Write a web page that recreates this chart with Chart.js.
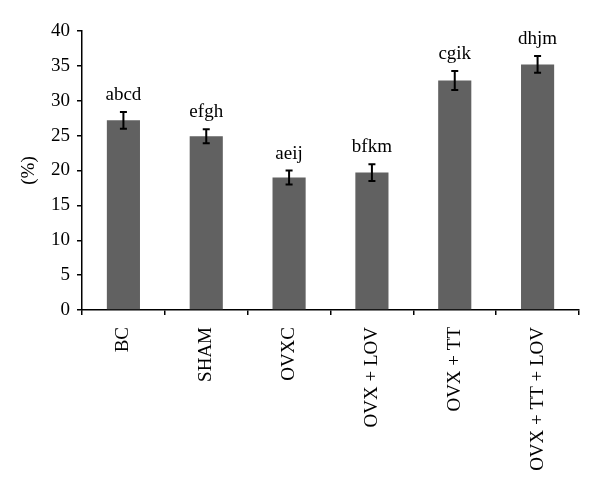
<!DOCTYPE html>
<html>
<head>
  <meta charset="UTF-8">
  <script src="https://cdn.jsdelivr.net/npm/chart.js"></script>
  <style>
    html, body { margin: 0; padding: 0; background: #fff; }
    #wrap { width: 600px; height: 493px; }
  </style>
</head>
<body>
  <div id="wrap"><canvas id="myChart"></canvas></div>
  <script>
    const groups = ['BC', 'SHAM', 'OVXC', 'OVX + LOV', 'OVX + TT', 'OVX + TT + LOV'];
    const values = [27.2, 24.9, 19.0, 19.7, 32.9, 35.2];
    const errors = [1.2, 1.0, 1.0, 1.2, 1.35, 1.2];
    const letters = ['abcd', 'efgh', 'aeij', 'bfkm', 'cgik', 'dhjm'];
    const yTicks = [0, 5, 10, 15, 20, 25, 30, 35, 40];

    const serif = 'Liberation Serif';

    // error bars + significance letters above each bar
    const errorPlugin = {
      id: 'errorBars',
      afterDatasetsDraw(chart) {
        const ctx = chart.ctx;
        const x = chart.scales.x;
        const y = chart.scales.y;
        ctx.save();
        ctx.strokeStyle = '#000';
        ctx.lineWidth = 2;
        ctx.fillStyle = '#000';
        ctx.font = '19px "' + serif + '"';
        ctx.textAlign = 'center';
        ctx.textBaseline = 'alphabetic';
        values.forEach(function (v, i) {
          const px = x.getPixelForValue(i);
          const top = y.getPixelForValue(v + errors[i]);
          const bot = y.getPixelForValue(v - errors[i]);
          ctx.beginPath();
          ctx.moveTo(px, top); ctx.lineTo(px, bot);
          ctx.moveTo(px - 3.5, top); ctx.lineTo(px + 3.5, top);
          ctx.moveTo(px - 3.5, bot); ctx.lineTo(px + 3.5, bot);
          ctx.stroke();
          ctx.fillText(letters[i], px, top - 12);
        });
        ctx.restore();
      }
    };

    var ctx = document.getElementById('myChart').getContext('2d');
    var chart = new Chart(ctx, {
      type: 'bar',
      data: {
        labels: groups,
        datasets: [{
          data: values,
          backgroundColor: '#616161',
          borderWidth: 0,
          barPercentage: 0.4,
          categoryPercentage: 1.0
        }]
      },
      options: {
        responsive: true,
        maintainAspectRatio: false,
        animation: false,
        layout: { padding: { top: 31, right: 21, bottom: 0, left: 0 } },
        plugins: {
          legend: { display: false },
          tooltip: { enabled: false }
        },
        scales: {
          x: {
            grid: {
              display: true,
              drawOnChartArea: false,
              drawTicks: true,
              tickLength: 5,
              color: '#000',
              lineWidth: 1.5,
              offset: true
            },
            border: { display: true, color: '#000', width: 1.5 },
            ticks: {
              color: '#000',
              font: { family: serif, size: 19 },
              minRotation: 90,
              maxRotation: 90,
              padding: 12,
              autoSkip: false
            },
            afterFit: function (scale) { scale.height = 183; }
          },
          y: {
            min: 0,
            max: 40,
            afterBuildTicks: function (scale) {
              scale.ticks = yTicks.map(function (v) { return { value: v }; });
            },
            grid: {
              display: true,
              drawOnChartArea: false,
              drawTicks: true,
              tickLength: 5,
              color: '#000',
              lineWidth: 1.5
            },
            border: { display: true, color: '#000', width: 1.5 },
            ticks: {
              color: '#000',
              font: { family: serif, size: 19 },
              padding: 7
            },
            title: {
              display: true,
              text: '(%)',
              color: '#000',
              font: { family: serif, size: 19 },
              padding: { top: 18, bottom: 0 }
            },
            afterFit: function (scale) { scale.width = 82; }
          }
        }
      },
      plugins: [errorPlugin]
    });
  </script>
</body>
</html>
